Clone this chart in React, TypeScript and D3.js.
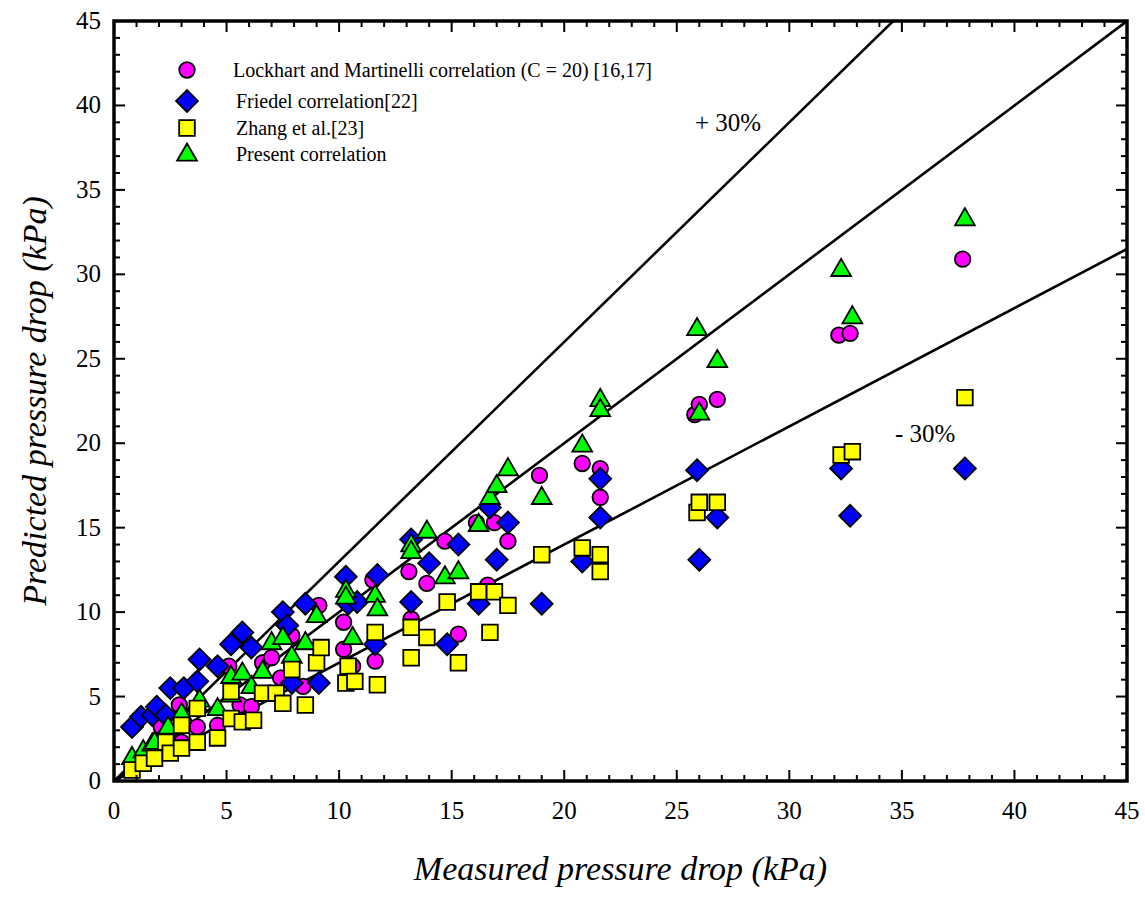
import React from 'react';
import * as d3 from 'd3';

const lockhart: [number, number][] = [
  [2.1, 3.2], [2.9, 4.5], [3.0, 2.3], [3.7, 3.2], [4.6, 3.3], [5.1, 6.8], [5.6, 4.5],
  [6.1, 4.4], [6.6, 7.0], [7.0, 7.3], [7.4, 6.1], [7.9, 8.6], [8.4, 5.6], [9.1, 10.4],
  [10.2, 9.4], [10.2, 7.8], [10.6, 6.8], [11.5, 11.9], [11.6, 7.1], [13.1, 12.4],
  [13.2, 9.6], [13.9, 11.7], [14.7, 14.2], [15.3, 8.7], [16.1, 15.3], [16.6, 11.6],
  [16.9, 15.3], [17.5, 14.2], [18.9, 18.1], [20.8, 18.8], [21.6, 18.5], [21.6, 16.8],
  [25.8, 21.7], [26.0, 22.3], [26.8, 22.6], [32.2, 26.4], [32.7, 26.5], [37.7, 30.9]
];

const friedel: [number, number][] = [
  [0.8, 3.2], [1.2, 3.8], [1.7, 3.9], [1.9, 4.4], [2.3, 3.9], [2.5, 5.5], [3.1, 5.5],
  [3.7, 5.9], [3.8, 7.2], [4.6, 6.8], [5.2, 8.1], [5.7, 8.8], [6.1, 7.9], [7.5, 10.0],
  [7.7, 9.2], [7.9, 5.8], [8.5, 10.5], [9.1, 5.8], [10.3, 12.1], [10.4, 10.5],
  [10.8, 10.6], [11.6, 8.1], [11.7, 12.2], [13.2, 14.3], [13.2, 10.6], [14.0, 12.9],
  [14.8, 8.1], [15.3, 14.0], [16.2, 10.5], [16.7, 16.2], [17.0, 13.1], [17.5, 15.3],
  [19.0, 10.5], [20.8, 13.0], [21.6, 17.9], [21.6, 15.6], [25.9, 18.4], [26.0, 13.1],
  [26.8, 15.6], [32.3, 18.5], [32.7, 15.7], [37.8, 18.5]
];

const zhang: [number, number][] = [
  [0.8, 0.65], [1.3, 1.05], [1.8, 1.35], [2.3, 2.3], [2.5, 1.65], [3.0, 1.95], [3.0, 3.3],
  [3.7, 2.3], [3.7, 4.3], [4.6, 2.55], [5.2, 5.3], [5.2, 3.7], [5.7, 3.5], [6.2, 3.6],
  [6.6, 5.2], [7.2, 5.2], [7.5, 4.6], [7.9, 6.6], [8.5, 4.5], [9.0, 7.0], [9.2, 7.9],
  [10.3, 5.8], [10.4, 6.8], [10.7, 5.9], [11.6, 8.8], [11.7, 5.7], [13.2, 9.1], [13.2, 7.3],
  [13.9, 8.5], [14.8, 10.6], [15.3, 7.0], [16.2, 11.2], [16.7, 8.8], [16.9, 11.2],
  [17.5, 10.4], [19.0, 13.4], [20.8, 13.8], [21.6, 13.4], [21.6, 12.4], [25.9, 15.9],
  [26.0, 16.5], [26.8, 16.5], [32.3, 19.3], [32.8, 19.5], [37.8, 22.7]
];

const present: [number, number][] = [
  [0.8, 1.4], [1.3, 1.8], [1.7, 2.2], [1.8, 2.3], [2.4, 3.2], [3.0, 4.0], [3.7, 4.5],
  [3.8, 4.8], [4.6, 4.3], [5.2, 6.2], [5.2, 5.1], [5.7, 6.4], [6.1, 5.6], [6.6, 6.5],
  [7.0, 8.2], [7.5, 8.5], [7.9, 7.4], [8.5, 8.2], [9.0, 9.8], [10.3, 11.3], [10.3, 10.9],
  [10.6, 8.5], [11.6, 11.0], [11.7, 10.2], [13.2, 14.0], [13.2, 13.6], [13.9, 14.8],
  [14.7, 12.1], [15.3, 12.4], [16.2, 15.2], [16.7, 16.8], [17.0, 17.5], [17.5, 18.5],
  [19.0, 16.8], [20.8, 19.9], [21.6, 22.6], [21.6, 22.0], [25.9, 26.8], [26.0, 21.8],
  [26.8, 24.9], [32.3, 30.3], [32.8, 27.5], [37.8, 33.3]
];

const legendLabels = [
  'Lockhart and Martinelli correlation (C = 20) [16,17]',
  'Friedel correlation[22]',
  'Zhang et al.[23]',
  'Present correlation'
];

const ticks = [0, 5, 10, 15, 20, 25, 30, 35, 40, 45];
const minorTicks = d3.range(0, 46, 1);
const lineSlopes = [1.3, 1.0, 0.7];

const W = 1145;
const H = 898;
const left = 114, right = 1127, top = 21, bottom = 781;

const x = d3.scaleLinear().domain([0, 45]).range([left, right]);
const y = d3.scaleLinear().domain([0, 45]).range([bottom, top]);

const circlePath = d3.symbol(d3.symbolCircle, 190)();
const squarePath = d3.symbol(d3.symbolSquare, 245)();
const diamondPath = d3.symbol(d3.symbolSquare, 240)();
const trianglePath = d3.symbol(d3.symbolTriangle, 170)();

const serif = 'Liberation Serif, Times New Roman, Times, serif';

const Marker = ({ kind, cx, cy }: { kind: string; cx: number; cy: number }) => {
  const common = { stroke: '#000', strokeWidth: 1.8 };
  if (kind === 'circle')
    return <path d={circlePath!} transform={`translate(${cx},${cy})`} fill="#ff00ff" {...common} />;
  if (kind === 'diamond')
    return <path d={diamondPath!} transform={`translate(${cx},${cy}) rotate(45)`} fill="#0000ff" {...common} />;
  if (kind === 'square')
    return <path d={squarePath!} transform={`translate(${cx},${cy})`} fill="#ffff00" {...common} />;
  return <path d={trianglePath!} transform={`translate(${cx},${cy + 1})`} fill="#00ff00" {...common} />;
};

export default function App() {
  const series = [
    { kind: 'circle', data: lockhart },
    { kind: 'diamond', data: friedel },
    { kind: 'triangle', data: present },
    { kind: 'square', data: zhang }
  ];
  const legendKinds = ['circle', 'diamond', 'square', 'triangle'];
  const legendY = [70, 101, 128, 154];

  const line = d3.line<[number, number]>().x(d => x(d[0])).y(d => y(d[1]));

  return (
    <svg width={W} height={H} style={{ position: 'absolute', left: 0, top: 0, background: '#fff', fontFamily: serif }}>
      <defs>
        <clipPath id="plot">
          <rect x={left} y={top} width={right - left} height={bottom - top} />
        </clipPath>
      </defs>

      {/* reference lines */}
      <g clipPath="url(#plot)">
        {lineSlopes.map(s => (
          <path key={s} d={line([[0, 0], [45, 45 * s]])!} fill="none" stroke="#000" strokeWidth={2.6} />
        ))}
      </g>

      {/* data */}
      {series.map(s => (
        <g key={s.kind}>
          {s.data.map((d, i) => (
            <Marker key={i} kind={s.kind} cx={x(d[0])} cy={y(d[1])} />
          ))}
        </g>
      ))}

      {/* frame and ticks */}
      <rect x={left} y={top} width={right - left} height={bottom - top} fill="none" stroke="#000" strokeWidth={3.5} />
      <g stroke="#000" strokeWidth={2}>
        {minorTicks.map(t => {
          const len = t % 5 === 0 ? 11 : 6;
          return (
            <g key={t}>
              <line x1={x(t)} x2={x(t)} y1={bottom} y2={bottom - len} />
              <line x1={x(t)} x2={x(t)} y1={top} y2={top + len} />
              <line y1={y(t)} y2={y(t)} x1={left} x2={left + len} />
              <line y1={y(t)} y2={y(t)} x1={right} x2={right - len} />
            </g>
          );
        })}
      </g>

      <g style={{ fontFamily: serif, fontSize: 25 }} fill="#000">
        {ticks.map(t => (
          <text key={'x' + t} x={x(t)} y={bottom + 38} textAnchor="middle">{t}</text>
        ))}
        {ticks.map(t => (
          <text key={'y' + t} x={left - 13} y={y(t) + 8} textAnchor="end">{t}</text>
        ))}
      </g>

      {/* axis titles */}
      <text x={(left + right) / 2} y={880} textAnchor="middle" style={{ fontFamily: serif, fontStyle: 'italic', fontSize: 34 }}>
        Measured pressure drop (kPa)
      </text>
      <text transform={`translate(46,${(top + bottom) / 2}) rotate(-90)`} textAnchor="middle" style={{ fontFamily: serif, fontStyle: 'italic', fontSize: 34 }}>
        Predicted pressure drop (kPa)
      </text>

      {/* line labels */}
      <text x={695} y={131} style={{ fontFamily: serif, fontSize: 25 }}>+ 30%</text>
      <text x={895} y={442} style={{ fontFamily: serif, fontSize: 25 }}>- 30%</text>

      {/* legend */}
      {legendKinds.map((k, i) => (
        <g key={k}>
          <Marker kind={k} cx={187} cy={legendY[i]} />
          <text x={i === 0 ? 233 : 236} y={legendY[i] + 7} style={{ fontFamily: serif, fontSize: 20 }}>
            {legendLabels[i]}
          </text>
        </g>
      ))}
    </svg>
  );
}
